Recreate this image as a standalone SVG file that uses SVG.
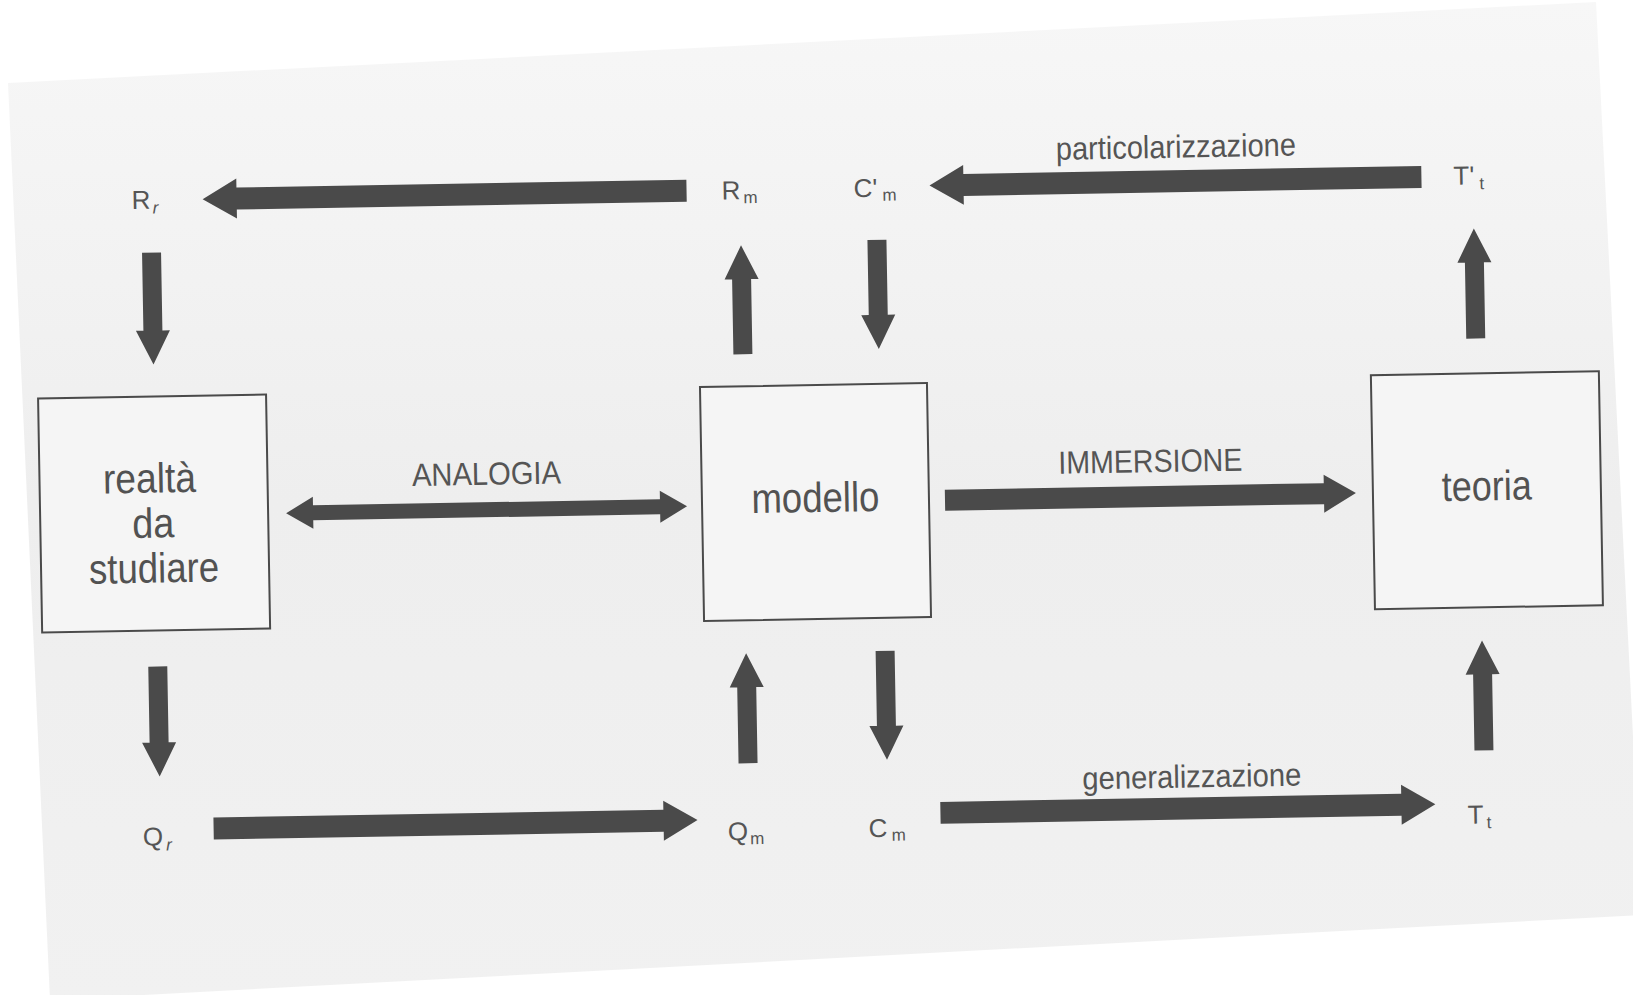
<svg xmlns="http://www.w3.org/2000/svg" width="1633" height="995" viewBox="0 0 1633 995">
  <defs>
    <linearGradient id="paper" x1="0" y1="0" x2="0" y2="1">
      <stop offset="0" stop-color="#f7f7f7"/>
      <stop offset="0.5" stop-color="#eeeeee"/>
      <stop offset="1" stop-color="#f1f1f1"/>
    </linearGradient>
    <style>
      .box { fill: #f5f5f5; stroke: #4a4a4a; stroke-width: 2; }
      .arrow { fill: #4a4a4a; }
      .btxt { font-family: "Liberation Sans", Arial, sans-serif; font-size: 42px; fill: #525252; text-anchor: middle; }
      .lbl { font-family: "Liberation Sans", Arial, sans-serif; font-size: 32px; fill: #555555; text-anchor: middle; }
      .sym { font-family: "Liberation Sans", Arial, sans-serif; font-size: 26px; fill: #555555; }
      .sub { font-size: 17px; }
      .it { font-style: italic; }
    </style>
  </defs>
  <rect x="0" y="0" width="1633" height="995" fill="#ffffff"/>
  <polygon points="8,83 1596,2 1642,915 50,1000" fill="url(#paper)"/>

  <g transform="rotate(-1 816 502)">
    <g id="connectors">
      <path class="arrow" d="M692,177.5 L242,177.5 L242,168.5 L208,188.5 L242,208.5 L242,199.5 L692,199.5 Z"/>
      <path class="arrow" d="M1427,176.5 L969,176.5 L969,167.5 L935,187.5 L969,207.5 L969,198.5 L1427,198.5 Z"/>
      <path class="arrow" d="M208,807 L658,807 L658,798 L692,818 L658,838 L658,829 L208,829 Z"/>
      <path class="arrow" d="M935,804 L1396,804 L1396,795 L1430,815 L1396,835 L1396,826 L935,826 Z"/>
      <path class="arrow" d="M945,492 L1324,492 L1324,483.5 L1356,502.5 L1324,521.5 L1324,513 L945,513 Z"/>
      <path class="arrow" d="M286,504 L313,488 L313,496.5 L660,496.5 L660,488 L687,504 L660,520 L660,511.5 L313,511.5 L313,520 Z"/>
      <path class="arrow" d="M146.5,241 L165.5,241 L165.5,319 L173,319 L156,353 L139,319 L146.5,319 Z"/>
      <path class="arrow" d="M736,353 L736,278 L728.5,278 L745.5,244 L762.5,278 L755,278 L755,353 Z"/>
      <path class="arrow" d="M872,241 L891,241 L891,316 L898.5,316 L881.5,350 L864.5,316 L872,316 Z"/>
      <path class="arrow" d="M1469,350 L1469,274 L1461.5,274 L1478.5,240 L1495.5,274 L1488,274 L1488,350 Z"/>
      <path class="arrow" d="M145.5,655 L164.5,655 L164.5,731 L172,731 L155,765 L138,731 L145.5,731 Z"/>
      <path class="arrow" d="M734,762 L734,686 L726.5,686 L743.5,652 L760.5,686 L753,686 L753,762 Z"/>
      <path class="arrow" d="M873,652 L892,652 L892,727 L899.5,727 L882.5,761 L865.5,727 L873,727 Z"/>
      <path class="arrow" d="M1470,762 L1470,686 L1462.5,686 L1479.5,652 L1496.5,686 L1489,686 L1489,762 Z"/>
      <text class="lbl" x="487" y="479" textLength="149" lengthAdjust="spacingAndGlyphs">ANALOGIA</text>
      <text class="lbl" x="1151" y="478" textLength="184" lengthAdjust="spacingAndGlyphs">IMMERSIONE</text>
      <text class="lbl" x="1182" y="164" textLength="240" lengthAdjust="spacingAndGlyphs">particolarizzazione</text>
      <text class="lbl" x="1187" y="794" textLength="219" lengthAdjust="spacingAndGlyphs">generalizzazione</text>
    </g>

    <g id="realta">
      <rect class="box" x="40" y="385" width="228" height="234"/>
      <text class="btxt" x="150" y="481" textLength="93" lengthAdjust="spacingAndGlyphs">realtà</text>
      <text class="btxt" x="153" y="526" textLength="42" lengthAdjust="spacingAndGlyphs">da</text>
      <text class="btxt" x="153" y="571" textLength="130" lengthAdjust="spacingAndGlyphs">studiare</text>
    </g>
    <g id="modello">
      <rect class="box" x="702" y="385" width="227" height="234"/>
      <text class="btxt" x="815.5" y="512" textLength="128" lengthAdjust="spacingAndGlyphs">modello</text>
    </g>
    <g id="teoria">
      <rect class="box" x="1373" y="385" width="228" height="234"/>
      <text class="btxt" x="1487" y="512" textLength="90" lengthAdjust="spacingAndGlyphs">teoria</text>
    </g>

    <g id="Rr"><text class="sym" x="137" y="197">R<tspan class="sub it" dx="2" dy="5">r</tspan></text></g>
    <g id="Rm"><text class="sym" x="727" y="198">R<tspan class="sub" dx="3" dy="4">m</tspan></text></g>
    <g id="Cpm"><text class="sym" x="859" y="198">C'<tspan class="sub" dx="5" dy="4">m</tspan></text></g>
    <g id="Tpt"><text class="sym" x="1459" y="196">T'<tspan class="sub" dx="5" dy="5">t</tspan></text></g>
    <g id="Qr"><text class="sym" x="137" y="834">Q<tspan class="sub it" dx="3" dy="5">r</tspan></text></g>
    <g id="Qm"><text class="sym" x="722" y="839">Q<tspan class="sub" dx="2" dy="4">m</tspan></text></g>
    <g id="Cm"><text class="sym" x="863" y="838">C<tspan class="sub" dx="4" dy="4">m</tspan></text></g>
    <g id="Tt"><text class="sym" x="1462" y="835">T<tspan class="sub" dx="3" dy="5">t</tspan></text></g>
  </g>
</svg>
